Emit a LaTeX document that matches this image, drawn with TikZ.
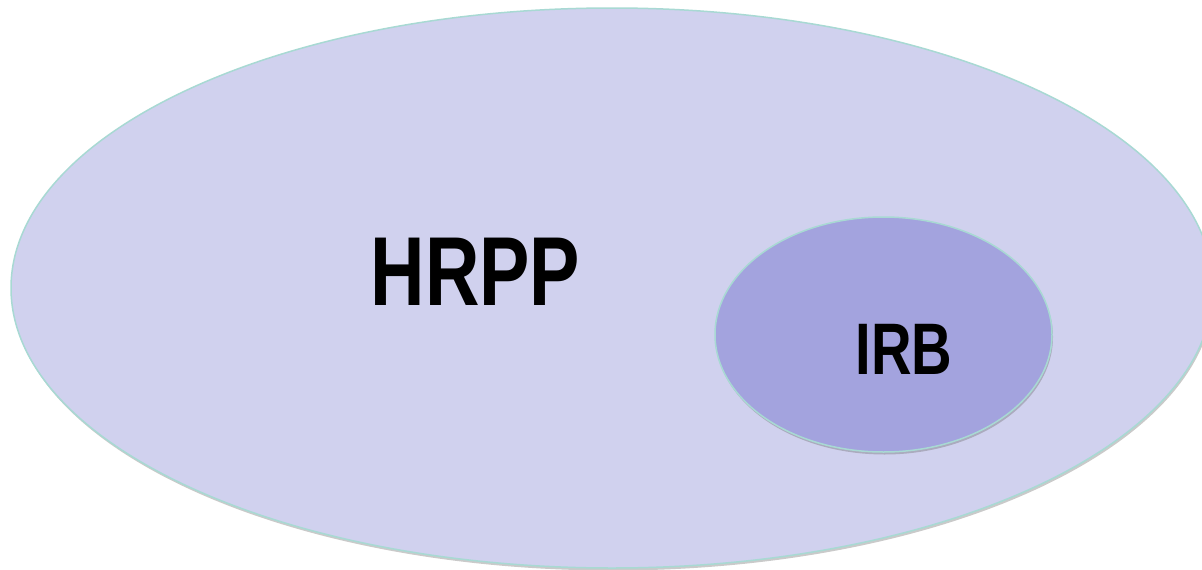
\documentclass[tikz,border=0pt]{standalone}
\usepackage{fontspec}
\setmainfont{Liberation Sans}
\usetikzlibrary{shapes.geometric,shadows}
\definecolor{outerfill}{HTML}{D0D1EE}
\definecolor{innerfill}{HTML}{A3A3DE}
\definecolor{rim}{HTML}{A8D9D3}
\tikzset{
  blob/.style={ellipse, draw=rim, line width=1.5pt, inner sep=0pt,
    drop shadow={shadow xshift=1pt, shadow yshift=-2.5pt, opacity=0.35, fill=black!60}},
  lbl/.style={anchor=base, inner sep=0pt, text=black}
}
\begin{document}
\begin{tikzpicture}[x=1pt,y=-1pt]
\useasboundingbox (0,0) rectangle (1202,570);
\node[blob, fill=outerfill, minimum width=1202pt, minimum height=560pt] (hrppE) at (612,288) {};
\node[blob, fill=innerfill, minimum width=337pt, minimum height=235pt] (irbE) at (883.5,334.5) {};
\node[lbl, font=\fontsize{98}{98}\selectfont\bfseries] (hrpp) at (475.5,305) {\scalebox{0.77}[1]{HRPP}};
\node[lbl, font=\fontsize{73}{73}\selectfont\bfseries] (irb) at (904,374) {\scalebox{0.77}[1]{IRB}};
\end{tikzpicture}
\end{document}
